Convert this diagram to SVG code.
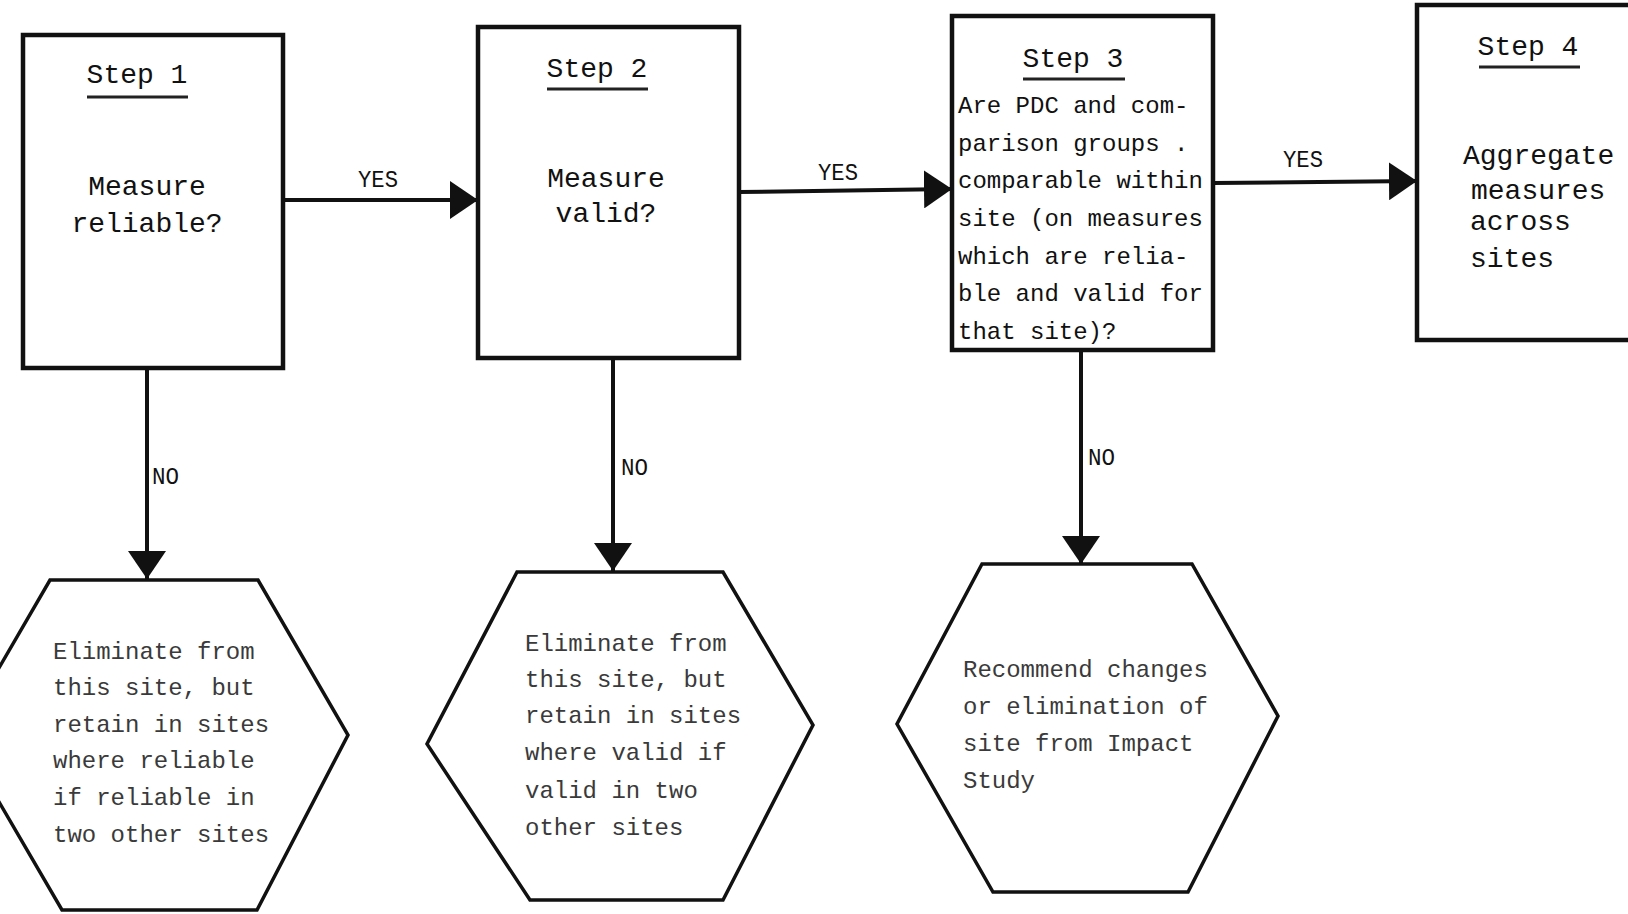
<svg xmlns="http://www.w3.org/2000/svg" width="1628" height="914" viewBox="0 0 1628 914">
  <style>
    .box { fill: #fff; stroke: #111; stroke-width: 4.5; }
    .hex { fill: #fff; stroke: #111; stroke-width: 3.5; stroke-linejoin: miter; }
    .rule { stroke: #222; stroke-width: 3; }
    .edge { fill: none; stroke: #111; stroke-width: 4; }
    .t { font-family: "Liberation Mono", "DejaVu Sans Mono", monospace; fill: #111; }
    .big { font-size: 28px; }
    .mid { font-size: 24px; }
    .faint { font-size: 24px; fill: #3a3a3a; }
    .lbl { font-size: 24px; }
  </style>
  <defs>
    <marker id="head" markerUnits="userSpaceOnUse" markerWidth="30" markerHeight="38" refX="28" refY="19" orient="auto">
      <path d="M0,0 L28,19 L0,38 z" fill="#111"/>
    </marker>
  </defs>

  <rect width="1628" height="914" fill="#fff"/>

  <!-- connectors -->
  <g id="connectors">
    <path class="edge" d="M283,200 L478,200" marker-end="url(#head)"/>
    <path class="edge" d="M739,192 L952,189" marker-end="url(#head)"/>
    <path class="edge" d="M1213,183 L1417,181" marker-end="url(#head)"/>
    <path class="edge" d="M147,368 L147,579" marker-end="url(#head)"/>
    <path class="edge" d="M613,358 L613,571" marker-end="url(#head)"/>
    <path class="edge" d="M1081,350 L1081,564" marker-end="url(#head)"/>
    <text class="t lbl" x="358" y="187" textLength="40" lengthAdjust="spacingAndGlyphs">YES</text>
    <text class="t lbl" x="818" y="180" textLength="40" lengthAdjust="spacingAndGlyphs">YES</text>
    <text class="t lbl" x="1283" y="167" textLength="40" lengthAdjust="spacingAndGlyphs">YES</text>
    <text class="t lbl" x="152" y="484" textLength="27" lengthAdjust="spacingAndGlyphs">NO</text>
    <text class="t lbl" x="621" y="475" textLength="27" lengthAdjust="spacingAndGlyphs">NO</text>
    <text class="t lbl" x="1088" y="465" textLength="27" lengthAdjust="spacingAndGlyphs">NO</text>
  </g>

  <!-- Step 1 -->
  <g id="step1">
    <rect class="box" x="23" y="35" width="260" height="333"/>
    <text class="t big" x="137" y="83" text-anchor="middle">Step 1</text>
    <line class="rule" x1="87" y1="97" x2="188" y2="97"/>
    <text class="t big" x="147" y="195" text-anchor="middle">Measure</text>
    <text class="t big" x="147" y="232" text-anchor="middle">reliable?</text>
  </g>

  <!-- Step 2 -->
  <g id="step2">
    <rect class="box" x="478" y="27" width="261" height="331"/>
    <text class="t big" x="597" y="77" text-anchor="middle">Step 2</text>
    <line class="rule" x1="547" y1="89" x2="648" y2="89"/>
    <text class="t big" x="606" y="187" text-anchor="middle">Measure</text>
    <text class="t big" x="606" y="222" text-anchor="middle">valid?</text>
  </g>

  <!-- Step 3 -->
  <g id="step3">
    <rect class="box" x="952" y="16" width="261" height="334"/>
    <text class="t big" x="1073" y="67" text-anchor="middle">Step 3</text>
    <line class="rule" x1="1023" y1="79" x2="1125" y2="79"/>
    <g class="t mid">
      <text x="958" y="113">Are PDC and com-</text>
      <text x="958" y="151">parison groups .</text>
      <text x="958" y="188">comparable within</text>
      <text x="958" y="226">site (on measures</text>
      <text x="958" y="264">which are relia-</text>
      <text x="958" y="301">ble and valid for</text>
      <text x="958" y="339">that site)?</text>
    </g>
  </g>

  <!-- Step 4 -->
  <g id="step4">
    <rect class="box" x="1417" y="5" width="230" height="335"/>
    <text class="t big" x="1528" y="55" text-anchor="middle">Step 4</text>
    <line class="rule" x1="1479" y1="67" x2="1580" y2="67"/>
    <text class="t big" x="1463" y="164">Aggregate</text>
    <text class="t big" x="1471" y="199">measures</text>
    <text class="t big" x="1470" y="230">across</text>
    <text class="t big" x="1470" y="267">sites</text>
  </g>

  <!-- outcome when step 1 fails -->
  <g id="drop-unreliable">
    <polygon class="hex" points="50,580 258,580 348,735 257,910 62,910 -40,735"/>
    <g class="t faint">
      <text x="53" y="659">Eliminate from</text>
      <text x="53" y="695">this site, but</text>
      <text x="53" y="732">retain in sites</text>
      <text x="53" y="768">where reliable</text>
      <text x="53" y="805">if reliable in</text>
      <text x="53" y="842">two other sites</text>
    </g>
  </g>

  <!-- outcome when step 2 fails -->
  <g id="drop-invalid">
    <polygon class="hex" points="517,572 723,572 813,725 723,900 530,900 427,744"/>
    <g class="t faint">
      <text x="525" y="651">Eliminate from</text>
      <text x="525" y="687">this site, but</text>
      <text x="525" y="723">retain in sites</text>
      <text x="525" y="760">where valid if</text>
      <text x="525" y="798">valid in two</text>
      <text x="525" y="835">other sites</text>
    </g>
  </g>

  <!-- outcome when step 3 fails -->
  <g id="recommend">
    <polygon class="hex" points="982,564 1192,564 1278,716 1188,892 993,892 897,724"/>
    <g class="t faint">
      <text x="963" y="677">Recommend changes</text>
      <text x="963" y="714">or elimination of</text>
      <text x="963" y="751">site from Impact</text>
      <text x="963" y="788">Study</text>
    </g>
  </g>
</svg>
